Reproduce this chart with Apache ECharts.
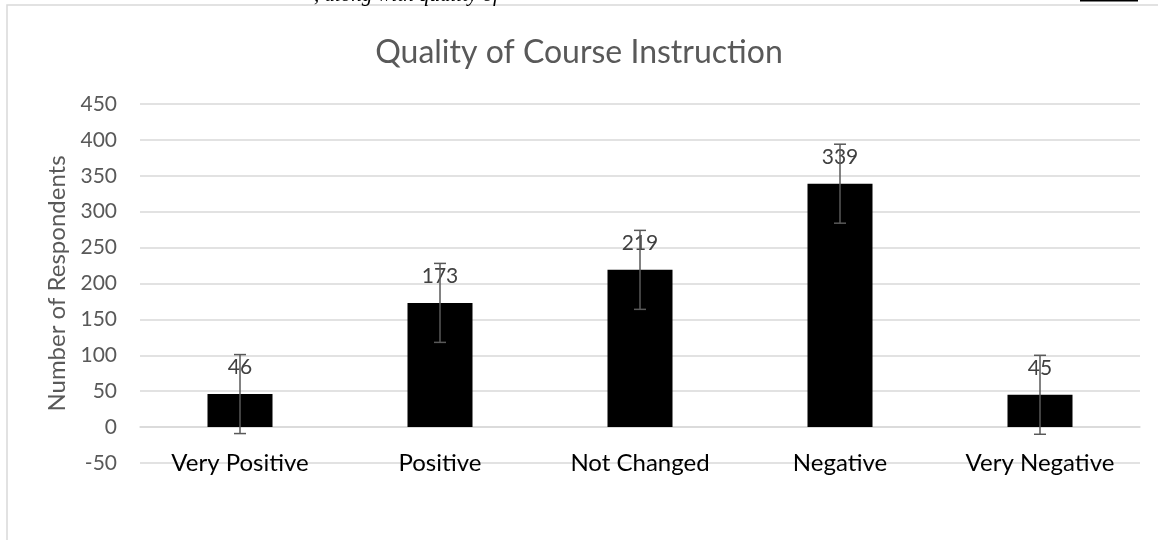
<!DOCTYPE html>
<html>
<head>
<meta charset="utf-8">
<title>Quality of Course Instruction</title>
<script src="https://cdn.jsdelivr.net/npm/echarts@6/dist/echarts.min.js"></script>
<style>
	html,body{
		margin:0;
		padding:0;
		background:#fff;
	}
	#chart{
		width:1158px;
		height:540px;
	}
</style>
</head>
<body>
<div id="chart"></div>
<script>
	// data
	var categories = ["Very Positive","Positive","Not Changed","Negative","Very Negative"];
	var respondents = [46,173,219,339,45];
	var errors = [55,55,55,55,55];//error bar (+/-)
	var yTicks = {min:-50,max:450,interval:50};

	var myChart = echarts.init(document.getElementById("chart"));

	//error bars: [index, low, high]
	var errData = [];
	for(var i = 0,l=respondents.length;i<l;i++){
		errData.push([i,respondents[i]-errors[i],respondents[i]+errors[i]]);
	}

	var option = {
		backgroundColor:'#fff',
		textStyle:{fontFamily:'Lato'},
		title:{
			text:"Quality of Course Instruction",
			left:'center',
			top:32,
			textStyle:{
				fontFamily:'Lato',
				fontWeight:'normal',
				fontSize:32,
				color:'#595959'
			}
		},
		graphic:[
			{//frame of the chart
				type:'rect',
				silent:true,
				shape:{x:7,y:5,width:1200,height:600},
				style:{fill:'none',stroke:'#d9d9d9',lineWidth:1.5}
			},
			{//clipped caption text above the chart
				type:'text',
				silent:true,
				left:314,
				top:-15,
				style:{
					text:", along with quality of",
					font:'italic 21px "Liberation Serif"',
					fill:'#000'
				}
			},
			{
				type:'rect',
				silent:true,
				shape:{x:1080,y:0,width:58,height:1.5},
				style:{fill:'#000'}
			}
		],
		grid:{
			left:140,
			right:18,
			top:104,
			bottom:77
		},
		xAxis:{
			type:'category',
			data:categories,
			axisLine:{
				onZero:true,
				lineStyle:{color:'#d9d9d9',width:1.5}
			},
			axisTick:{show:false},
			axisLabel:{
				margin:-12,
				fontSize:24,
				color:'#000',
				fontFamily:'Lato'
			}
		},
		yAxis:{
			type:'value',
			min:yTicks.min,
			max:yTicks.max,
			interval:yTicks.interval,
			name:"Number of Respondents",
			nameLocation:'middle',
			nameGap:68,
			nameTextStyle:{
				fontSize:24,
				color:'#595959',
				fontFamily:'Lato'
			},
			axisLine:{show:false},
			axisTick:{show:false},
			axisLabel:{
				margin:23,
				fontSize:21,
				color:'#595959',
				fontFamily:'Lato'
			},
			splitLine:{
				lineStyle:{color:'#d9d9d9',width:1.5}
			}
		},
		series:[
			{
				type:'bar',
				data:respondents,
				barWidth:65,
				z:2,
				itemStyle:{color:'#000'},
				label:{
					show:true,
					position:'top',
					distance:16,
					fontSize:21,
					color:'#404040',
					fontFamily:'Lato'
				}
			},
			{
				type:'custom',
				z:5,
				silent:true,
				data:errData,
				renderItem:function(params,api){
					var lo = api.coord([api.value(0),api.value(1)]);
					var hi = api.coord([api.value(0),api.value(2)]);
					var w = 6;
					var st = {stroke:'#595959',lineWidth:1.5};
					return {
						type:'group',
						children:[
							{type:'line',shape:{x1:lo[0],y1:lo[1],x2:hi[0],y2:hi[1]},style:st},
							{type:'line',shape:{x1:hi[0]-w,y1:hi[1],x2:hi[0]+w,y2:hi[1]},style:st},
							{type:'line',shape:{x1:lo[0]-w,y1:lo[1],x2:lo[0]+w,y2:lo[1]},style:st}
						]
					};
				}
			}
		]
	};
	myChart.setOption(option);
</script>
</body>
</html>
